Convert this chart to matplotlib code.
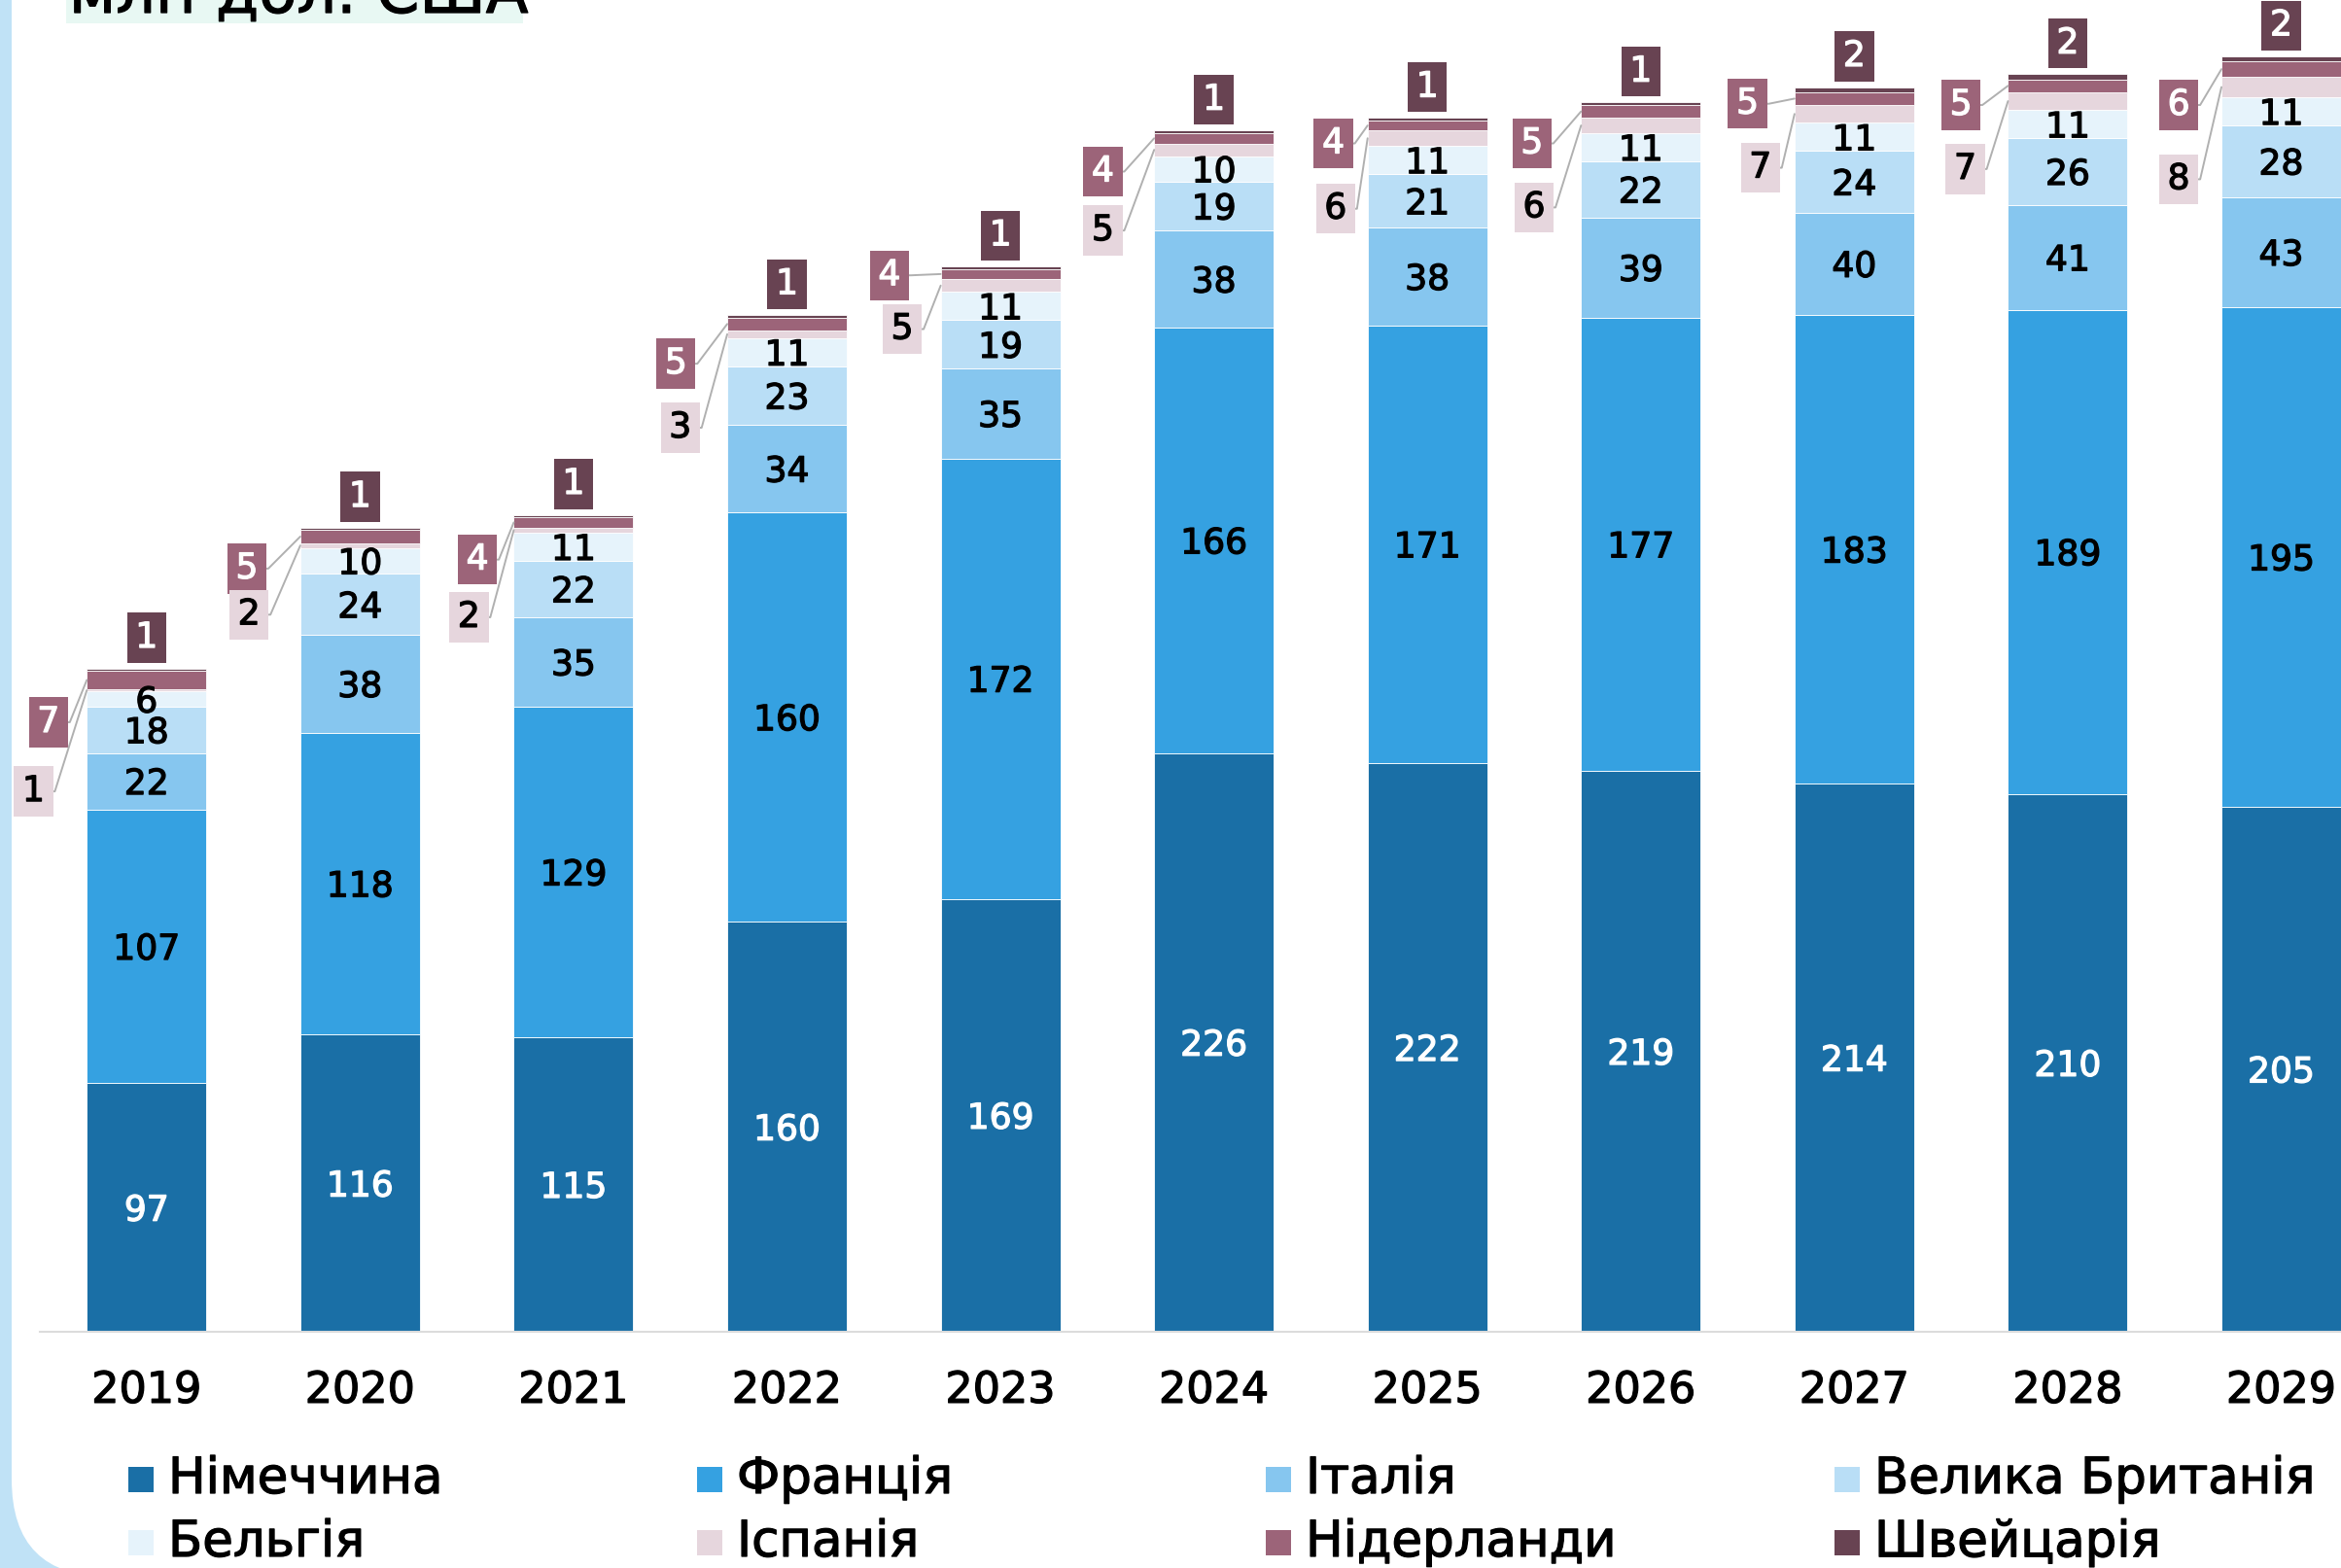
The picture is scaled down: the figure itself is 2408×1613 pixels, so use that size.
import matplotlib.pyplot as plt
import matplotlib.patheffects as pe
import numpy as np
from matplotlib.patches import FancyBboxPatch, Rectangle

years = ['2019', '2020', '2021', '2022', '2023', '2024', '2025', '2026', '2027', '2028', '2029']

germany = [97, 116, 115, 160, 169, 226, 222, 219, 214, 210, 205]
france = [107, 118, 129, 160, 172, 166, 171, 177, 183, 189, 195]
italy = [22, 38, 35, 34, 35, 38, 38, 39, 40, 41, 43]
uk = [18, 24, 22, 23, 19, 19, 21, 22, 24, 26, 28]
belgium = [6, 10, 11, 11, 11, 10, 11, 11, 11, 11, 11]
spain = [1, 2, 2, 3, 5, 5, 6, 6, 7, 7, 8]
netherlands = [7, 5, 4, 5, 4, 4, 4, 5, 5, 5, 6]
switzerland = [1, 1, 1, 1, 1, 1, 1, 1, 2, 2, 2]

names = ['Німеччина', 'Франція', 'Італія', 'Велика Британія',
         'Бельгія', 'Іспанія', 'Нідерланди', 'Швейцарія']
colors = ['#1a6fa6', '#35a1e1', '#86c6ef', '#b9def6',
          '#e6f3fb', '#e6d6dd', '#9c6479', '#684352']

series = [germany, france, italy, uk, belgium, spain, netherlands, switzerland]

# where the small callout boxes sit (x from bar centre, y below bar top)
nl_dx = [-0.46, -0.53, -0.45, -0.52, -0.52, -0.52, -0.44, -0.51, -0.50, -0.50, -0.48]
nl_dy = [21, 16, 17.5, 19, 3.5, 16, 10, 16, 6.5, 12, 19]
sp_dx = [-0.53, -0.52, -0.49, -0.50, -0.46, -0.52, -0.43, -0.50, -0.44, -0.48, -0.48]
sp_dy = [48, 34, 40, 44, 24.5, 39, 35.5, 41, 31.5, 37, 48]


def thick(color):
    # a touch heavier than DejaVu regular
    return [pe.withStroke(linewidth=0.9, foreground=color)]


W, H = 2408, 1613
fig = plt.figure(figsize=(W / 100, H / 100), dpi=100)
fig.patch.set_facecolor('#c0e2f6')

# white card with rounded corner, drawn in pixel coords
bg = fig.add_axes([0, 0, 1, 1], zorder=0)
bg.set_xlim(0, W)
bg.set_ylim(0, H)
bg.axis('off')
bg.add_patch(FancyBboxPatch((12, -9), W + 200, H + 200,
                            boxstyle='round,pad=0,rounding_size=100',
                            fc='white', ec='none'))
# title (cut at top)
bg.add_patch(Rectangle((68, H - 24), 470, 30, fc='#e8f8f3', ec='none'))
bg.text(71, H - 13, 'млн дол. США', fontsize=46, va='baseline', ha='left', color='black',
        path_effects=thick('black'))

ax = fig.add_axes([41 / W, 243 / H, (W - 41) / W, 1370 / H], zorder=1)
ax.patch.set_alpha(0)
x = np.arange(len(years))
width = 0.56

bottom = np.zeros(len(years))
for i, (vals, col) in enumerate(zip(series, colors)):
    vals = np.array(vals)
    ax.bar(x, vals, width, bottom=bottom, color=col, edgecolor='white', linewidth=0.6)
    if i < 5:
        tc = 'white' if i == 0 else 'black'
        for xi, b, v in zip(x, bottom, vals):
            ax.text(xi, b + v / 2, str(v), ha='center', va='center_baseline', fontsize=26,
                    color=tc, path_effects=thick(tc))
    bottom = bottom + vals

top = bottom
cum = np.cumsum(np.array(series), axis=0)
box_kw = dict(boxstyle='square,pad=0.24')
line_kw = dict(arrowstyle='-', color='#b0b0b0', lw=1.4, shrinkA=0, shrinkB=0,
               connectionstyle='arc,angleA=0,armA=22,angleB=0,armB=0,rad=0')
for xi in x:
    # Switzerland above the bar
    ax.text(xi, top[xi] + 12, str(switzerland[xi]), ha='center', va='center',
            fontsize=26, color='white', path_effects=thick('white'),
            bbox=dict(fc=colors[7], ec='none', **box_kw))
    left = xi - width / 2
    # Netherlands
    nl_mid = cum[5][xi] + netherlands[xi] / 2
    t = ax.annotate(str(netherlands[xi]), xy=(left, nl_mid),
                    xytext=(xi + nl_dx[xi], top[xi] - nl_dy[xi]),
                    ha='center', va='center', fontsize=26, color='white',
                    bbox=dict(fc=colors[6], ec='none', **box_kw), arrowprops=line_kw,
                    annotation_clip=False)
    t.set_path_effects(thick('white'))
    # Spain
    sp_mid = cum[4][xi] + spain[xi] / 2
    t = ax.annotate(str(spain[xi]), xy=(left, sp_mid),
                    xytext=(xi + sp_dx[xi], top[xi] - sp_dy[xi]),
                    ha='center', va='center', fontsize=26, color='black',
                    bbox=dict(fc=colors[5], ec='none', **box_kw), arrowprops=line_kw,
                    annotation_clip=False)
    t.set_path_effects(thick('black'))

ax.set_xlim(-0.5, 10.28)
ax.set_ylim(0, 520)
ax.set_xticks(x)
ax.set_xticklabels(years, fontsize=32)
for lab in ax.get_xticklabels():
    lab.set_path_effects(thick('black'))
ax.tick_params(axis='x', length=0, pad=28)
ax.set_yticks([])
for s in ['top', 'right', 'left']:
    ax.spines[s].set_visible(False)
ax.spines['bottom'].set_color('#dcdcdc')
ax.spines['bottom'].set_linewidth(1.5)

# legend, 4 columns x 2 rows
col_x = [132, 717, 1302, 1887]
row_y = [H - 1522, H - 1587]
for k, (name, col) in enumerate(zip(names, colors)):
    cx = col_x[k % 4]
    cy = row_y[k // 4]
    bg.add_patch(Rectangle((cx, cy - 13), 26, 26, fc=col, ec='none', zorder=3))
    bg.text(cx + 41, cy, name, fontsize=37, va='center', ha='left', zorder=3,
            path_effects=thick('black'))

fig.savefig('out.png', dpi=100)
